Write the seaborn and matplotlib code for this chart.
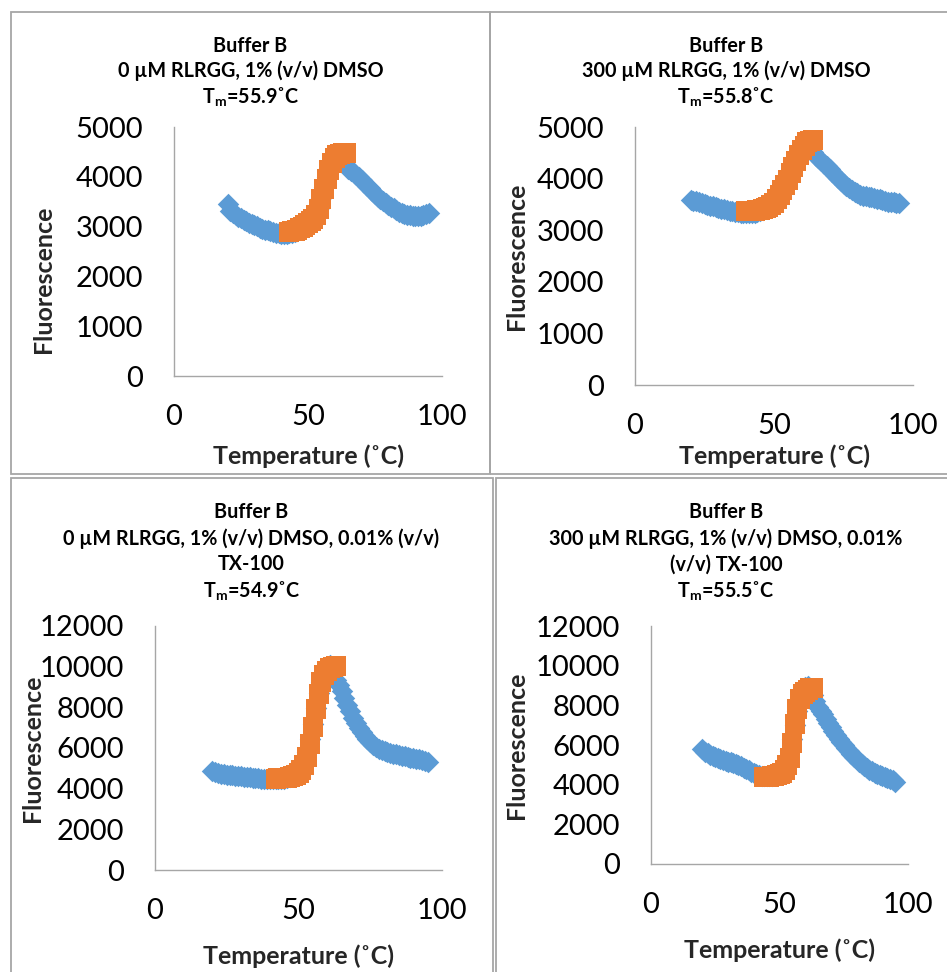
import matplotlib
matplotlib.use("Agg")
import matplotlib.pyplot as plt
import seaborn as sns
from matplotlib.patches import Rectangle

W, H, DPI = 947, 972, 100

# ---------------- data (1 degC grid) ----------------
temp_blue = list(range(20, 96))          # 20 .. 95 degC

p1_blue = [3460, 3310, 3270, 3235, 3200, 3170, 3140, 3110, 3080, 3055,
           3030, 3005, 2980, 2960, 2940, 2925, 2905, 2890, 2875, 2865,
           2860, 2855, 2858, 2865, 2878, 2895, 2918, 2945, 2975, 3010,
           3055, 3110, 3170, 3250, 3380, 3570, 3790, 4000, 4170, 4310,
           4400, 4450, 4420, 4330, 4230, 4160, 4120, 4080, 4035, 3990,
           3935, 3880, 3825, 3770, 3710, 3650, 3600, 3550, 3510, 3470,
           3435, 3400, 3365, 3330, 3300, 3270, 3255, 3240, 3230, 3220,
           3215, 3215, 3222, 3235, 3250, 3270]
p1_orange_temp = list(range(43, 65))
p1_orange = [2900, 2908, 2920, 2940, 2965, 2995, 3030, 3065, 3110, 3160,
             3230, 3360, 3560, 3760, 3950, 4130, 4280, 4380, 4430, 4460,
             4470, 4470]

p2_blue = [3580, 3572, 3560, 3545, 3530, 3512, 3495, 3478, 3462, 3450,
           3435, 3420, 3405, 3390, 3377, 3365, 3355, 3345, 3338, 3335,
           3332, 3330, 3334, 3340, 3355, 3375, 3400, 3430, 3468, 3510,
           3565, 3630, 3710, 3800, 3910, 4030, 4160, 4290, 4410, 4510,
           4590, 4650, 4660, 4600, 4520, 4440, 4390, 4340, 4290, 4240,
           4185, 4130, 4070, 4010, 3955, 3900, 3855, 3810, 3775, 3740,
           3712, 3690, 3672, 3660, 3648, 3635, 3622, 3610, 3597, 3585,
           3570, 3555, 3547, 3540, 3530, 3520]
p2_orange_temp = list(range(40, 65))
p2_orange = [3370, 3372, 3375, 3380, 3385, 3393, 3405, 3425, 3450, 3485,
             3530, 3600, 3680, 3770, 3870, 3980, 4100, 4220, 4340, 4460,
             4560, 4640, 4700, 4730, 4740]

p3_blue = [4880, 4810, 4765, 4740, 4715, 4690, 4670, 4650, 4635, 4620,
           4605, 4590, 4575, 4560, 4545, 4530, 4515, 4500, 4485, 4470,
           4462, 4455, 4455, 4460, 4475, 4500, 4535, 4580, 4645, 4730,
           4860, 5050, 5350, 5800, 6450, 7200, 7950, 8700, 9250, 9650,
           9950, 10100, 9800, 9350, 9100, 8800, 8450, 8100, 7800, 7500,
           7250, 7000, 6800, 6600, 6450, 6300, 6170, 6050, 5950, 5880,
           5840, 5800, 5760, 5720, 5685, 5650, 5620, 5590, 5560, 5530,
           5500, 5470, 5435, 5400, 5365, 5330]
p3_orange_temp = list(range(42, 64))
p3_orange = [4500, 4505, 4510, 4522, 4540, 4565, 4600, 4660, 4750, 4900,
             5150, 5550, 6200, 7050, 7900, 8650, 9250, 9600, 9800, 9920,
             10000, 10020]

p4_blue = [5800, 5660, 5580, 5520, 5460, 5400, 5350, 5300, 5250, 5200,
           5160, 5120, 5070, 5020, 4970, 4920, 4850, 4780, 4715, 4650,
           4595, 4540, 4490, 4450, 4425, 4420, 4425, 4440, 4465, 4500,
           4580, 4700, 4900, 5200, 5700, 6300, 7000, 7700, 8250, 8650,
           8900, 9000, 8800, 8500, 8200, 7900, 7720, 7550, 7330, 7100,
           6900, 6700, 6500, 6300, 6140, 5980, 5830, 5680, 5540, 5400,
           5270, 5150, 5030, 4920, 4830, 4750, 4670, 4600, 4540, 4480,
           4430, 4380, 4330, 4280, 4220, 4150]
p4_orange_temp = list(range(44, 64))
p4_orange = [4400, 4403, 4410, 4422, 4440, 4470, 4520, 4600, 4750, 4980,
             5350, 6100, 7050, 7800, 8300, 8550, 8680, 8780, 8850, 8880]

titles = [
    ["Buffer B", "0 µM RLRGG, 1% (v/v) DMSO", r"T$_\mathbf{m}$=55.9˚C"],
    ["Buffer B", "300 µM RLRGG, 1% (v/v) DMSO", r"T$_\mathbf{m}$=55.8˚C"],
    ["Buffer B", "0 µM RLRGG, 1% (v/v) DMSO, 0.01% (v/v)", "TX-100", r"T$_\mathbf{m}$=54.9˚C"],
    ["Buffer B", "300 µM RLRGG, 1% (v/v) DMSO, 0.01%", "(v/v) TX-100", r"T$_\mathbf{m}$=55.5˚C"],
]
x_label = "Temperature (˚C)"
y_label = "Fluorescence"
x_ticks = [0, 50, 100]

# ---------------- style ----------------
sns.set_style("white")
plt.rcParams["font.family"] = ["Lato", "DejaVu Sans"]
plt.rcParams["mathtext.fontset"] = "custom"
plt.rcParams["mathtext.rm"] = "Lato"
plt.rcParams["mathtext.it"] = "Lato:italic"
plt.rcParams["mathtext.bf"] = "Lato:bold"

BLUE = "#5B9BD5"
ORANGE = "#ED7D31"
GRAY = "#a6a6a6"

fig = plt.figure(figsize=(W / DPI, H / DPI), dpi=DPI)
fig.patch.set_facecolor("white")


def fx(px):
    return px / W


def fy(py):
    return 1 - py / H


# layout in pixels
panels = [
    dict(box=(11, 12, 490, 474), ax=(174, 127, 442, 376), ymax=5000, ystep=1000,
         blue=p1_blue, ot=p1_orange_temp, ov=p1_orange, tcx=250.5,
         tbase=[51.7, 77.3, 103.3], ylab=(43.3, 279), xlab_y=456),
    dict(box=(490, 12, 950, 474), ax=(635, 127, 913, 385), ymax=5000, ystep=1000,
         blue=p2_blue, ot=p2_orange_temp, ov=p2_orange, tcx=726,
         tbase=[51.7, 77.3, 103.3], ylab=(516.7, 256), xlab_y=456),
    dict(box=(11, 478, 493, 976), ax=(155, 626, 442, 870), ymax=12000, ystep=2000,
         blue=p3_blue, ot=p3_orange_temp, ov=p3_orange, tcx=251.5,
         tbase=[518.3, 545, 570.5, 597.3], ylab=(32.3, 748), xlab_y=956),
    dict(box=(496, 478, 950, 976), ax=(651, 626, 908, 864), ymax=12000, ystep=2000,
         blue=p4_blue, ot=p4_orange_temp, ov=p4_orange, tcx=726,
         tbase=[518.3, 545, 570.5, 597.3], ylab=(516.7, 745), xlab_y=950),
]

for i, p in enumerate(panels):
    x0, y0, x1, y1 = p["box"]
    fig.add_artist(Rectangle((fx(x0), fy(y1)), (x1 - x0) / W, (y1 - y0) / H,
                             transform=fig.transFigure, fill=False,
                             edgecolor=GRAY, linewidth=1.3, zorder=0))

    l, t, r, b = p["ax"]
    ax = fig.add_axes([fx(l), fy(b), (r - l) / W, (b - t) / H])
    ax.set_facecolor("none")

    sns.scatterplot(x=temp_blue, y=p["blue"], marker="D", s=120, color=BLUE,
                    linewidth=0, ax=ax, legend=False, zorder=3, clip_on=False)
    sns.scatterplot(x=p["ot"], y=p["ov"], marker="s", s=200, color=ORANGE,
                    linewidth=0, ax=ax, legend=False, zorder=4, clip_on=False)

    ax.set_xlim(0, 100)
    ax.set_ylim(0, p["ymax"])
    ax.set_xticks(x_ticks)
    ax.set_yticks(list(range(0, p["ymax"] + 1, p["ystep"])))
    ax.grid(False)
    for s in ["top", "right"]:
        ax.spines[s].set_visible(False)
    for s in ["left", "bottom"]:
        ax.spines[s].set_color(GRAY)
        ax.spines[s].set_linewidth(1.0)
    ax.tick_params(direction="out", length=7.2, width=0.9, color=GRAY,
                   labelsize=21, labelcolor="black")
    ax.tick_params(axis="y", pad=15)
    ax.tick_params(axis="x", pad=13)

    ax.set_xlabel(x_label, fontsize=18, fontweight="bold")
    ax.set_ylabel(y_label, fontsize=18, fontweight="bold")
    ax.xaxis.set_label_coords(0.5, (b - p["xlab_y"]) / (b - t))
    ax.xaxis.label.set_va("center")
    ylx, yly = p["ylab"]
    ax.yaxis.set_label_coords((ylx - l) / (r - l), (b - yly) / (b - t))
    ax.yaxis.label.set_va("center")
    ax.yaxis.label.set_ha("center")

    for line, base in zip(titles[i], p["tbase"]):
        fig.text(fx(p["tcx"]), fy(base), line, ha="center", va="baseline",
                 fontsize=14.2, fontweight="bold", color="black")

fig.savefig("out.png", dpi=DPI, facecolor="white")
